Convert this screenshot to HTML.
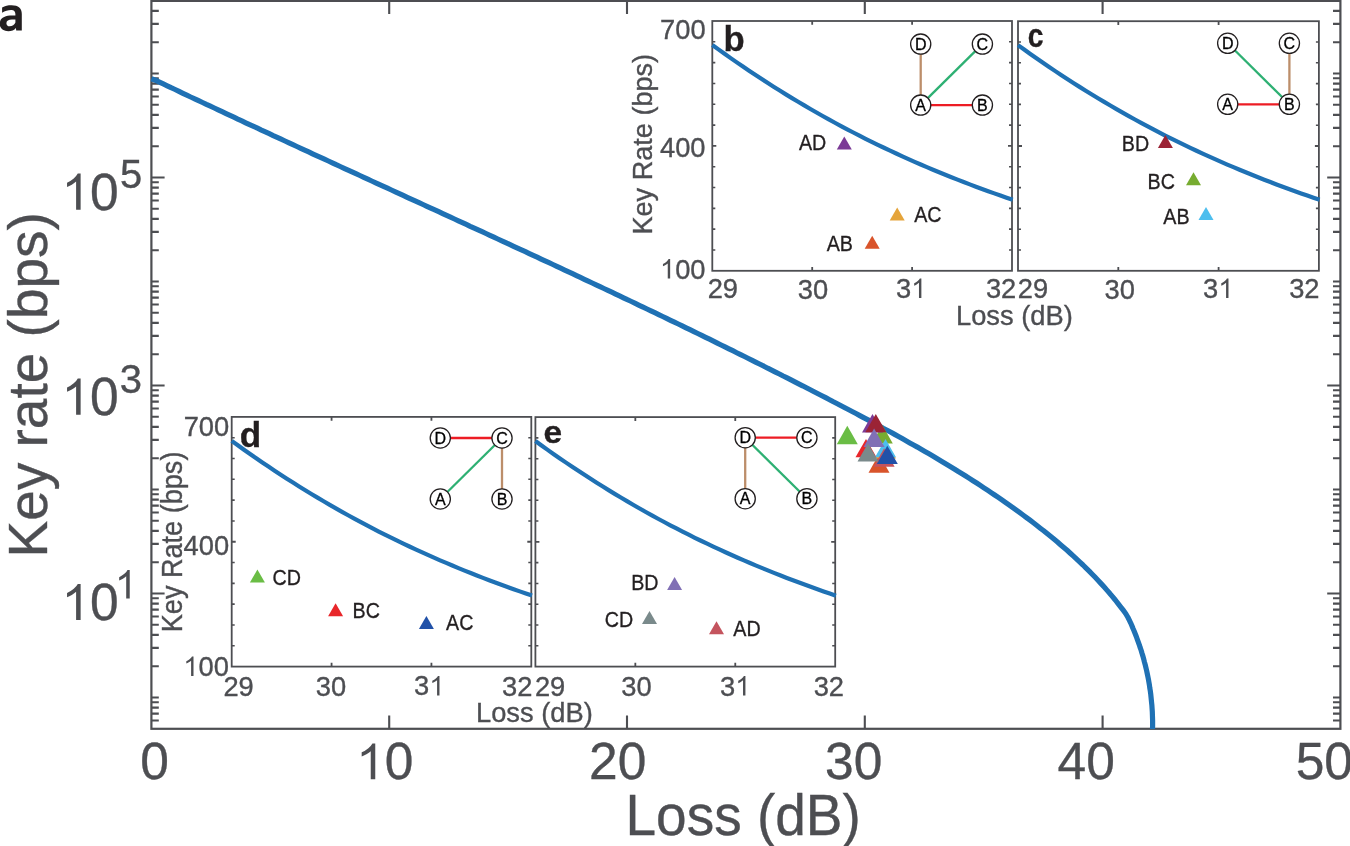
<!DOCTYPE html>
<html><head><meta charset="utf-8"><style>
html,body{margin:0;padding:0;background:#fff;}
svg{display:block;will-change:transform;}
</style></head><body>
<svg width="1350" height="846" viewBox="0 0 1350 846">
<rect width="1350" height="846" fill="#fff"/>
<clipPath id="mclip"><rect x="140" y="0" width="1210" height="729.3"/></clipPath>
<path d="M151.4,720.57h7.4M1340.4,720.57h-7.4M151.4,713.61h7.4M1340.4,713.61h-7.4M151.4,707.58h7.4M1340.4,707.58h-7.4M151.4,702.26h7.4M1340.4,702.26h-7.4M151.4,697.50h7.4M1340.4,697.50h-7.4M151.4,666.19h7.4M1340.4,666.19h-7.4M151.4,647.88h7.4M1340.4,647.88h-7.4M151.4,634.89h7.4M1340.4,634.89h-7.4M151.4,624.81h7.4M1340.4,624.81h-7.4M151.4,616.57h7.4M1340.4,616.57h-7.4M151.4,609.61h7.4M1340.4,609.61h-7.4M151.4,603.58h7.4M1340.4,603.58h-7.4M151.4,598.26h7.4M1340.4,598.26h-7.4M151.4,593.50h13.2M1340.4,593.50h-13.2M151.4,562.19h7.4M1340.4,562.19h-7.4M151.4,543.88h7.4M1340.4,543.88h-7.4M151.4,530.89h7.4M1340.4,530.89h-7.4M151.4,520.81h7.4M1340.4,520.81h-7.4M151.4,512.57h7.4M1340.4,512.57h-7.4M151.4,505.61h7.4M1340.4,505.61h-7.4M151.4,499.58h7.4M1340.4,499.58h-7.4M151.4,494.26h7.4M1340.4,494.26h-7.4M151.4,489.50h7.4M1340.4,489.50h-7.4M151.4,458.19h7.4M1340.4,458.19h-7.4M151.4,439.88h7.4M1340.4,439.88h-7.4M151.4,426.89h7.4M1340.4,426.89h-7.4M151.4,416.81h7.4M1340.4,416.81h-7.4M151.4,408.57h7.4M1340.4,408.57h-7.4M151.4,401.61h7.4M1340.4,401.61h-7.4M151.4,395.58h7.4M1340.4,395.58h-7.4M151.4,390.26h7.4M1340.4,390.26h-7.4M151.4,385.50h13.2M1340.4,385.50h-13.2M151.4,354.19h7.4M1340.4,354.19h-7.4M151.4,335.88h7.4M1340.4,335.88h-7.4M151.4,322.89h7.4M1340.4,322.89h-7.4M151.4,312.81h7.4M1340.4,312.81h-7.4M151.4,304.57h7.4M1340.4,304.57h-7.4M151.4,297.61h7.4M1340.4,297.61h-7.4M151.4,291.58h7.4M1340.4,291.58h-7.4M151.4,286.26h7.4M1340.4,286.26h-7.4M151.4,281.50h7.4M1340.4,281.50h-7.4M151.4,250.19h7.4M1340.4,250.19h-7.4M151.4,231.88h7.4M1340.4,231.88h-7.4M151.4,218.89h7.4M1340.4,218.89h-7.4M151.4,208.81h7.4M1340.4,208.81h-7.4M151.4,200.57h7.4M1340.4,200.57h-7.4M151.4,193.61h7.4M1340.4,193.61h-7.4M151.4,187.58h7.4M1340.4,187.58h-7.4M151.4,182.26h7.4M1340.4,182.26h-7.4M151.4,177.50h13.2M1340.4,177.50h-13.2M151.4,146.19h7.4M1340.4,146.19h-7.4M151.4,127.88h7.4M1340.4,127.88h-7.4M151.4,114.89h7.4M1340.4,114.89h-7.4M151.4,104.81h7.4M1340.4,104.81h-7.4M151.4,96.57h7.4M1340.4,96.57h-7.4M151.4,89.61h7.4M1340.4,89.61h-7.4M151.4,83.58h7.4M1340.4,83.58h-7.4M151.4,78.26h7.4M1340.4,78.26h-7.4M151.4,73.50h7.4M1340.4,73.50h-7.4M151.4,42.19h7.4M1340.4,42.19h-7.4M151.4,23.88h7.4M1340.4,23.88h-7.4M151.4,10.89h7.4M1340.4,10.89h-7.4M389.20,728.8v-13.2M389.20,0.9v13.2M627.00,728.8v-13.2M627.00,0.9v13.2M864.80,728.8v-13.2M864.80,0.9v13.2M1102.60,728.8v-13.2M1102.60,0.9v13.2" stroke="#4d4e52" stroke-width="2.1" fill="none"/>
<rect x="151.4" y="0.9" width="1189.0" height="727.9" fill="none" stroke="#4d4e52" stroke-width="2.2"/>
<path d="M151.4,78.7 L155.5,80.2 L159.4,82.1 L163.3,83.9 L167.2,85.8 L171.1,87.7 L175.1,89.5 L179.0,91.4 L182.9,93.3 L186.8,95.1 L190.7,97.0 L194.7,98.8 L198.6,100.7 L202.5,102.5 L206.4,104.4 L210.4,106.2 L214.3,108.0 L218.2,109.9 L222.1,111.7 L226.1,113.6 L230.0,115.4 L233.9,117.2 L237.8,119.1 L241.8,120.9 L245.7,122.8 L249.6,124.6 L253.6,126.4 L257.5,128.2 L261.4,130.1 L265.4,131.9 L269.3,133.7 L273.2,135.6 L277.2,137.4 L281.1,139.2 L285.0,141.0 L289.0,142.9 L292.9,144.7 L296.9,146.5 L300.8,148.3 L304.7,150.1 L308.7,151.9 L312.6,153.8 L316.5,155.6 L320.5,157.4 L324.4,159.2 L328.4,161.0 L332.3,162.8 L336.2,164.7 L340.2,166.5 L344.1,168.3 L348.1,170.1 L352.0,171.9 L355.9,173.7 L359.9,175.5 L363.8,177.3 L367.8,179.2 L371.7,181.0 L375.7,182.8 L379.6,184.6 L383.5,186.4 L387.5,188.2 L391.4,190.0 L395.4,191.8 L399.3,193.6 L403.2,195.4 L407.2,197.3 L411.1,199.1 L415.1,200.9 L419.0,202.7 L423.0,204.5 L426.9,206.3 L430.8,208.1 L434.8,209.9 L438.7,211.7 L442.7,213.6 L446.6,215.4 L450.5,217.2 L454.5,219.0 L458.4,220.8 L462.4,222.6 L466.3,224.4 L470.2,226.3 L474.2,228.1 L478.1,229.9 L482.1,231.7 L486.0,233.5 L489.9,235.3 L493.9,237.2 L497.8,239.0 L501.8,240.8 L505.7,242.6 L509.6,244.4 L513.6,246.3 L517.5,248.1 L521.4,249.9 L525.4,251.7 L529.3,253.6 L533.2,255.4 L537.2,257.2 L541.1,259.1 L545.0,260.9 L549.0,262.7 L552.9,264.5 L556.8,266.4 L560.7,268.2 L564.7,270.1 L568.6,271.9 L572.5,273.7 L576.5,275.6 L580.4,277.4 L584.3,279.3 L588.2,281.1 L592.2,283.0 L596.1,284.8 L600.0,286.7 L603.9,288.5 L607.9,290.4 L611.8,292.2 L615.7,294.1 L619.6,295.9 L623.5,297.8 L627.4,299.7 L631.4,301.5 L635.3,303.4 L639.2,305.3 L643.1,307.1 L647.0,309.0 L650.9,310.9 L654.8,312.7 L658.7,314.6 L662.7,316.5 L666.6,318.4 L670.5,320.3 L674.4,322.2 L678.3,324.0 L682.2,325.9 L686.1,327.8 L690.0,329.7 L693.9,331.6 L697.8,333.5 L701.7,335.4 L705.6,337.3 L709.5,339.2 L713.4,341.1 L717.3,343.1 L721.1,345.0 L725.0,346.9 L728.9,348.8 L732.8,350.7 L736.7,352.7 L740.6,354.6 L744.5,356.5 L748.4,358.5 L752.2,360.4 L756.1,362.3 L760.0,364.3 L763.9,366.2 L767.7,368.2 L771.6,370.1 L775.5,372.1 L779.4,374.0 L783.2,376.0 L787.1,377.9 L791.0,379.9 L794.8,381.9 L798.7,383.9 L802.6,385.8 L806.4,387.8 L810.3,389.8 L814.1,391.8 L818.0,393.8 L821.9,395.8 L825.7,397.7 L829.6,399.7 L833.4,401.8 L837.3,403.8 L841.1,405.8 L844.9,407.8 L848.8,409.8 L852.6,411.8 L856.5,413.8 L860.3,415.9 L864.1,417.9 L868.0,419.9 L871.8,422.0 L875.6,424.0 L879.4,426.1 L883.2,428.2 L887.1,430.2 L890.9,432.3 L894.7,434.4 L898.5,436.5 L902.2,438.6 L906.0,440.7 L909.8,442.9 L913.6,445.0 L917.4,447.1 L921.1,449.3 L924.9,451.5 L928.6,453.6 L932.4,455.8 L936.1,458.0 L939.8,460.2 L943.5,462.4 L947.3,464.7 L951.0,466.9 L954.7,469.2 L958.3,471.5 L962.0,473.7 L965.7,476.0 L969.4,478.4 L973.0,480.7 L976.7,483.0 L980.3,485.4 L983.9,487.8 L987.5,490.2 L991.1,492.6 L994.7,495.0 L998.3,497.4 L1001.9,499.9 L1005.4,502.4 L1009.0,504.9 L1012.5,507.4 L1016.0,509.9 L1019.5,512.4 L1023.0,515.0 L1026.5,517.6 L1030.0,520.2 L1033.4,522.8 L1036.9,525.5 L1040.3,528.2 L1043.7,530.8 L1047.1,533.6 L1050.5,536.3 L1053.9,539.1 L1057.2,541.8 L1060.5,544.7 L1063.8,547.5 L1067.1,550.3 L1070.3,553.2 L1073.5,556.1 L1076.7,559.1 L1079.9,562.1 L1083.0,565.0 L1086.1,568.1 L1089.2,571.1 L1092.2,574.2 L1095.2,577.3 L1098.2,580.5 L1101.1,583.6 L1104.0,586.8 L1106.9,590.1 L1109.7,593.3 L1112.5,596.7 L1115.3,600.0 L1117.9,603.4 L1120.6,606.8 L1123.2,610.2 L1125.8,613.7 L1128.0,617.5 L1129.3,620.2 L1130.6,622.8 L1131.8,625.5 L1132.9,628.3 L1134.1,631.0 L1135.2,633.7 L1136.3,636.5 L1137.3,639.3 L1138.3,642.1 L1139.3,644.8 L1140.2,647.7 L1141.2,650.5 L1142.0,653.3 L1142.9,656.1 L1143.7,659.0 L1144.4,661.9 L1145.2,664.7 L1145.9,667.6 L1146.6,670.5 L1147.2,673.4 L1147.8,676.3 L1148.4,679.2 L1148.9,682.1 L1149.4,685.0 L1149.8,688.0 L1150.3,690.9 L1150.7,693.8 L1151.0,696.8 L1151.3,699.7 L1151.6,702.7 L1151.9,705.6 L1152.1,708.6 L1152.3,711.5 L1152.4,714.5 L1152.5,717.5 L1152.6,720.4 L1152.6,723.4 L1152.6,726.3 L1152.5,729.3" fill="none" stroke="#1f71b4" stroke-width="5.2" stroke-linejoin="round" clip-path="url(#mclip)"/>
<text transform="translate(140.13,779.18) scale(1.0,1.0100)" style="font-family:'Liberation Sans',sans-serif;font-size:51.50px;" fill="#4d4e52" stroke="#4d4e52" stroke-width="0.35">0</text>
<g transform="translate(356.07,779.18) scale(1.0,1.0100)" fill="#4d4e52" stroke="#4d4e52" stroke-width="0.35"><text style="font-family:'Liberation Sans',sans-serif;font-size:51.50px"> 0</text><path transform="translate(0.000,0) scale(0.02515,-0.02515)" d="M763 0H583V1098Q518 1038 412.5 979T223 890V1057Q375 1124 489 1221T650 1409H763Z"/></g>
<text transform="translate(589.03,779.18) scale(1.0,1.0100)" style="font-family:'Liberation Sans',sans-serif;font-size:51.50px;" fill="#4d4e52" stroke="#4d4e52" stroke-width="0.35">20</text>
<text transform="translate(825.09,779.18) scale(1.0,1.0100)" style="font-family:'Liberation Sans',sans-serif;font-size:51.50px;" fill="#4d4e52" stroke="#4d4e52" stroke-width="0.35">30</text>
<text transform="translate(1057.58,779.18) scale(1.0,1.0100)" style="font-family:'Liberation Sans',sans-serif;font-size:51.50px;" fill="#4d4e52" stroke="#4d4e52" stroke-width="0.35">40</text>
<text transform="translate(1295.64,779.18) scale(1.0,1.0100)" style="font-family:'Liberation Sans',sans-serif;font-size:51.50px;" fill="#4d4e52" stroke="#4d4e52" stroke-width="0.35">50</text>
<g transform="translate(61.44,209.77) scale(1.0,1.0202)" fill="#4d4e52" stroke="#4d4e52" stroke-width="0.35"><text style="font-family:'Liberation Sans',sans-serif;font-size:51.50px"> 0</text><path transform="translate(0.000,0) scale(0.02515,-0.02515)" d="M763 0H583V1098Q518 1038 412.5 979T223 890V1057Q375 1124 489 1221T650 1409H763Z"/></g>
<text transform="translate(119.94,187.90) scale(1.0,1.0100)" style="font-family:'Liberation Sans',sans-serif;font-size:40.00px;" fill="#4d4e52" stroke="#4d4e52" stroke-width="0.35">5</text>
<g transform="translate(61.44,414.87) scale(1.0,1.0285)" fill="#4d4e52" stroke="#4d4e52" stroke-width="0.35"><text style="font-family:'Liberation Sans',sans-serif;font-size:51.50px"> 0</text><path transform="translate(0.000,0) scale(0.02515,-0.02515)" d="M763 0H583V1098Q518 1038 412.5 979T223 890V1057Q375 1124 489 1221T650 1409H763Z"/></g>
<text transform="translate(119.82,393.30) scale(1.0,1.0099)" style="font-family:'Liberation Sans',sans-serif;font-size:40.00px;" fill="#4d4e52" stroke="#4d4e52" stroke-width="0.35">3</text>
<g transform="translate(61.44,619.88) scale(1.0,1.0148)" fill="#4d4e52" stroke="#4d4e52" stroke-width="0.35"><text style="font-family:'Liberation Sans',sans-serif;font-size:51.50px"> 0</text><path transform="translate(0.000,0) scale(0.02515,-0.02515)" d="M763 0H583V1098Q518 1038 412.5 979T223 890V1057Q375 1124 489 1221T650 1409H763Z"/></g>
<g transform="translate(114.82,598.60) scale(1.0,1.0392)" fill="#4d4e52" stroke="#4d4e52" stroke-width="0.35"><text style="font-family:'Liberation Sans',sans-serif;font-size:40.00px"> </text><path transform="translate(0.000,0) scale(0.01953,-0.01953)" d="M763 0H583V1098Q518 1038 412.5 979T223 890V1057Q375 1124 489 1221T650 1409H763Z"/></g>
<text x="625.49" y="834.9" style="font-family:'Liberation Sans',sans-serif;font-size:55px;" fill="#4d4e52" text-anchor="start" transform="translate(0,834.9) scale(1,1.035) translate(0,-834.9)" stroke="#4d4e52" stroke-width="0.35">Loss (dB)</text>
<text transform="translate(46.8,553) rotate(-90) scale(1,1.015)" style="font-family:'Liberation Sans',sans-serif;font-size:55px" fill="#4d4e52" x="-4.51" y="0" stroke="#4d4e52" stroke-width="0.35">Key rate (bps)</text>
<path d="M2.1,7.4 C5,5.8 8,5.2 11.5,5.2 C18.5,5.2 21.8,8.5 21.8,14 L21.8,30.6 L16.2,30.6 L15.9,27.9 C14.3,30 11.5,31.2 8.3,31.2 C3.2,31.2 -0.3,28.3 -0.3,24 C-0.3,18 5,15.6 12,15.6 L15.4,15.6 L15.4,14.6 C15.4,11.2 13.8,10 11,10 C8,10 5,11 2.1,12.8 Z M15.4,19.5 L12,19.5 C8.5,19.5 6.4,20.8 6.4,23.2 C6.4,25.3 7.8,26.3 9.6,26.3 C12.3,26.3 14.6,24.8 15.4,22.5 Z" fill="#231f20" fill-rule="evenodd"/>
<rect x="712.3" y="21.0" width="299.70" height="249.80" fill="#fff"/><path d="M712.3,249.98h3M1012.0,249.98h-3M712.3,229.17h3M1012.0,229.17h-3M712.3,208.35h3M1012.0,208.35h-3M712.3,187.53h3M1012.0,187.53h-3M712.3,166.72h3M1012.0,166.72h-3M712.3,125.08h3M1012.0,125.08h-3M712.3,104.27h3M1012.0,104.27h-3M712.3,83.45h3M1012.0,83.45h-3M712.3,62.63h3M1012.0,62.63h-3M712.3,41.82h3M1012.0,41.82h-3" stroke="#4d4e52" stroke-width="1.6" fill="none"/><path d="M712.3,145.90h4M1012.0,145.90h-4M812.20,270.8v-3.8M812.20,21.0v3.8M912.10,270.8v-3.8M912.10,21.0v3.8" stroke="#4d4e52" stroke-width="1.8" fill="none"/><rect x="712.3" y="21.0" width="299.70" height="249.80" fill="none" stroke="#4d4e52" stroke-width="1.8"/><path d="M0.00,23.91 L6.13,28.34 L12.26,32.72 L18.39,37.04 L24.52,41.29 L30.65,45.49 L36.78,49.62 L42.91,53.70 L49.04,57.72 L55.18,61.68 L61.31,65.58 L67.44,69.43 L73.57,73.22 L79.70,76.95 L85.83,80.63 L91.96,84.25 L98.09,87.81 L104.22,91.33 L110.35,94.78 L116.48,98.19 L122.61,101.54 L128.74,104.84 L134.87,108.09 L141.00,111.28 L147.13,114.43 L153.27,117.52 L159.40,120.56 L165.53,123.56 L171.66,126.50 L177.79,129.40 L183.92,132.25 L190.05,135.05 L196.18,137.81 L202.31,140.52 L208.44,143.19 L214.57,145.81 L220.70,148.40 L226.83,150.93 L232.96,153.43 L239.09,155.89 L245.22,158.31 L251.36,160.69 L257.49,163.03 L263.62,165.33 L269.75,167.60 L275.88,169.83 L282.01,172.02 L288.14,174.18 L294.27,176.31 L300.40,178.41" transform="translate(712.3,21.0) scale(1.0000,1.0020)" fill="none" stroke="#1f71b4" stroke-width="4.2" vector-effect="non-scaling-stroke" stroke-linejoin="round"/><text transform="translate(723.51,50.95) scale(1.0,1.0031)" style="font-family:'Liberation Sans',sans-serif;font-size:34.72px;font-weight:bold;" fill="#231f20" stroke="#231f20" stroke-width="0.3">b</text>
<line x1="920.70" y1="44.10" x2="920.70" y2="105.10" stroke="#bc8e6a" stroke-width="2.3"/><line x1="920.70" y1="105.10" x2="982.40" y2="44.10" stroke="#2eb073" stroke-width="2.3"/><line x1="920.70" y1="105.10" x2="982.40" y2="105.10" stroke="#ed1c24" stroke-width="2.3"/><circle cx="920.70" cy="44.10" r="10.1" fill="#fff" stroke="#231f20" stroke-width="1.3"/><text x="920.70" y="49.60" style="font-family:'Liberation Sans',sans-serif;font-size:16px" fill="#000" text-anchor="middle" stroke="#000" stroke-width="0.3">D</text><circle cx="982.40" cy="44.10" r="10.1" fill="#fff" stroke="#231f20" stroke-width="1.3"/><text x="982.40" y="49.60" style="font-family:'Liberation Sans',sans-serif;font-size:16px" fill="#000" text-anchor="middle" stroke="#000" stroke-width="0.3">C</text><circle cx="920.70" cy="105.10" r="10.1" fill="#fff" stroke="#231f20" stroke-width="1.3"/><text x="920.70" y="110.60" style="font-family:'Liberation Sans',sans-serif;font-size:16px" fill="#000" text-anchor="middle" stroke="#000" stroke-width="0.3">A</text><circle cx="982.40" cy="105.10" r="10.1" fill="#fff" stroke="#231f20" stroke-width="1.3"/><text x="982.40" y="110.60" style="font-family:'Liberation Sans',sans-serif;font-size:16px" fill="#000" text-anchor="middle" stroke="#000" stroke-width="0.3">B</text>
<rect x="1018.0" y="21.2" width="300.90" height="249.60" fill="#fff"/><path d="M1018.0,250.00h3M1318.9,250.00h-3M1018.0,229.20h3M1318.9,229.20h-3M1018.0,208.40h3M1318.9,208.40h-3M1018.0,187.60h3M1318.9,187.60h-3M1018.0,166.80h3M1318.9,166.80h-3M1018.0,125.20h3M1318.9,125.20h-3M1018.0,104.40h3M1318.9,104.40h-3M1018.0,83.60h3M1318.9,83.60h-3M1018.0,62.80h3M1318.9,62.80h-3M1018.0,42.00h3M1318.9,42.00h-3" stroke="#4d4e52" stroke-width="1.6" fill="none"/><path d="M1018.0,146.00h4M1318.9,146.00h-4M1118.30,270.8v-3.8M1118.30,21.2v3.8M1218.60,270.8v-3.8M1218.60,21.2v3.8" stroke="#4d4e52" stroke-width="1.8" fill="none"/><rect x="1018.0" y="21.2" width="300.90" height="249.60" fill="none" stroke="#4d4e52" stroke-width="1.8"/><path d="M0.00,23.91 L6.13,28.34 L12.26,32.72 L18.39,37.04 L24.52,41.29 L30.65,45.49 L36.78,49.62 L42.91,53.70 L49.04,57.72 L55.18,61.68 L61.31,65.58 L67.44,69.43 L73.57,73.22 L79.70,76.95 L85.83,80.63 L91.96,84.25 L98.09,87.81 L104.22,91.33 L110.35,94.78 L116.48,98.19 L122.61,101.54 L128.74,104.84 L134.87,108.09 L141.00,111.28 L147.13,114.43 L153.27,117.52 L159.40,120.56 L165.53,123.56 L171.66,126.50 L177.79,129.40 L183.92,132.25 L190.05,135.05 L196.18,137.81 L202.31,140.52 L208.44,143.19 L214.57,145.81 L220.70,148.40 L226.83,150.93 L232.96,153.43 L239.09,155.89 L245.22,158.31 L251.36,160.69 L257.49,163.03 L263.62,165.33 L269.75,167.60 L275.88,169.83 L282.01,172.02 L288.14,174.18 L294.27,176.31 L300.40,178.41" transform="translate(1018.0,21.2) scale(1.0040,1.0012)" fill="none" stroke="#1f71b4" stroke-width="4.2" vector-effect="non-scaling-stroke" stroke-linejoin="round"/><text transform="translate(1027.80,46.68) scale(1.0,1.1486)" style="font-family:'Liberation Sans',sans-serif;font-size:28.28px;font-weight:bold;" fill="#231f20" stroke="#231f20" stroke-width="0.3">c</text>
<line x1="1227.70" y1="43.30" x2="1289.40" y2="104.30" stroke="#2eb073" stroke-width="2.3"/><line x1="1289.40" y1="43.30" x2="1289.40" y2="104.30" stroke="#bc8e6a" stroke-width="2.3"/><line x1="1227.70" y1="104.30" x2="1289.40" y2="104.30" stroke="#ed1c24" stroke-width="2.3"/><circle cx="1227.70" cy="43.30" r="10.1" fill="#fff" stroke="#231f20" stroke-width="1.3"/><text x="1227.70" y="48.80" style="font-family:'Liberation Sans',sans-serif;font-size:16px" fill="#000" text-anchor="middle" stroke="#000" stroke-width="0.3">D</text><circle cx="1289.40" cy="43.30" r="10.1" fill="#fff" stroke="#231f20" stroke-width="1.3"/><text x="1289.40" y="48.80" style="font-family:'Liberation Sans',sans-serif;font-size:16px" fill="#000" text-anchor="middle" stroke="#000" stroke-width="0.3">C</text><circle cx="1227.70" cy="104.30" r="10.1" fill="#fff" stroke="#231f20" stroke-width="1.3"/><text x="1227.70" y="109.80" style="font-family:'Liberation Sans',sans-serif;font-size:16px" fill="#000" text-anchor="middle" stroke="#000" stroke-width="0.3">A</text><circle cx="1289.40" cy="104.30" r="10.1" fill="#fff" stroke="#231f20" stroke-width="1.3"/><text x="1289.40" y="109.80" style="font-family:'Liberation Sans',sans-serif;font-size:16px" fill="#000" text-anchor="middle" stroke="#000" stroke-width="0.3">B</text>
<rect x="231.7" y="416.9" width="299.60" height="249.70" fill="#fff"/><path d="M231.7,645.79h3M531.3,645.79h-3M231.7,624.98h3M531.3,624.98h-3M231.7,604.17h3M531.3,604.17h-3M231.7,583.37h3M531.3,583.37h-3M231.7,562.56h3M531.3,562.56h-3M231.7,520.94h3M531.3,520.94h-3M231.7,500.13h3M531.3,500.13h-3M231.7,479.32h3M531.3,479.32h-3M231.7,458.52h3M531.3,458.52h-3M231.7,437.71h3M531.3,437.71h-3" stroke="#4d4e52" stroke-width="1.6" fill="none"/><path d="M231.7,541.75h4M531.3,541.75h-4M331.57,666.6v-3.8M331.57,416.9v3.8M431.43,666.6v-3.8M431.43,416.9v3.8" stroke="#4d4e52" stroke-width="1.8" fill="none"/><rect x="231.7" y="416.9" width="299.60" height="249.70" fill="none" stroke="#4d4e52" stroke-width="1.8"/><path d="M0.00,23.91 L6.13,28.34 L12.26,32.72 L18.39,37.04 L24.52,41.29 L30.65,45.49 L36.78,49.62 L42.91,53.70 L49.04,57.72 L55.18,61.68 L61.31,65.58 L67.44,69.43 L73.57,73.22 L79.70,76.95 L85.83,80.63 L91.96,84.25 L98.09,87.81 L104.22,91.33 L110.35,94.78 L116.48,98.19 L122.61,101.54 L128.74,104.84 L134.87,108.09 L141.00,111.28 L147.13,114.43 L153.27,117.52 L159.40,120.56 L165.53,123.56 L171.66,126.50 L177.79,129.40 L183.92,132.25 L190.05,135.05 L196.18,137.81 L202.31,140.52 L208.44,143.19 L214.57,145.81 L220.70,148.40 L226.83,150.93 L232.96,153.43 L239.09,155.89 L245.22,158.31 L251.36,160.69 L257.49,163.03 L263.62,165.33 L269.75,167.60 L275.88,169.83 L282.01,172.02 L288.14,174.18 L294.27,176.31 L300.40,178.41" transform="translate(231.7,416.9) scale(0.9997,1.0016)" fill="none" stroke="#1f71b4" stroke-width="4.2" vector-effect="non-scaling-stroke" stroke-linejoin="round"/><text transform="translate(239.76,447.05) scale(1.0,0.9879)" style="font-family:'Liberation Sans',sans-serif;font-size:35.12px;font-weight:bold;" fill="#231f20" stroke="#231f20" stroke-width="0.3">d</text>
<line x1="440.30" y1="438.00" x2="502.00" y2="438.00" stroke="#ed1c24" stroke-width="2.3"/><line x1="502.00" y1="438.00" x2="440.30" y2="499.00" stroke="#2eb073" stroke-width="2.3"/><line x1="502.00" y1="438.00" x2="502.00" y2="499.00" stroke="#bc8e6a" stroke-width="2.3"/><circle cx="440.30" cy="438.00" r="10.1" fill="#fff" stroke="#231f20" stroke-width="1.3"/><text x="440.30" y="443.50" style="font-family:'Liberation Sans',sans-serif;font-size:16px" fill="#000" text-anchor="middle" stroke="#000" stroke-width="0.3">D</text><circle cx="502.00" cy="438.00" r="10.1" fill="#fff" stroke="#231f20" stroke-width="1.3"/><text x="502.00" y="443.50" style="font-family:'Liberation Sans',sans-serif;font-size:16px" fill="#000" text-anchor="middle" stroke="#000" stroke-width="0.3">C</text><circle cx="440.30" cy="499.00" r="10.1" fill="#fff" stroke="#231f20" stroke-width="1.3"/><text x="440.30" y="504.50" style="font-family:'Liberation Sans',sans-serif;font-size:16px" fill="#000" text-anchor="middle" stroke="#000" stroke-width="0.3">A</text><circle cx="502.00" cy="499.00" r="10.1" fill="#fff" stroke="#231f20" stroke-width="1.3"/><text x="502.00" y="504.50" style="font-family:'Liberation Sans',sans-serif;font-size:16px" fill="#000" text-anchor="middle" stroke="#000" stroke-width="0.3">B</text>
<rect x="535.4" y="417.1" width="299.80" height="249.50" fill="#fff"/><path d="M535.4,645.81h3M835.2,645.81h-3M535.4,625.02h3M835.2,625.02h-3M535.4,604.23h3M835.2,604.23h-3M535.4,583.43h3M835.2,583.43h-3M535.4,562.64h3M835.2,562.64h-3M535.4,521.06h3M835.2,521.06h-3M535.4,500.27h3M835.2,500.27h-3M535.4,479.48h3M835.2,479.48h-3M535.4,458.68h3M835.2,458.68h-3M535.4,437.89h3M835.2,437.89h-3" stroke="#4d4e52" stroke-width="1.6" fill="none"/><path d="M535.4,541.85h4M835.2,541.85h-4M635.33,666.6v-3.8M635.33,417.1v3.8M735.27,666.6v-3.8M735.27,417.1v3.8" stroke="#4d4e52" stroke-width="1.8" fill="none"/><rect x="535.4" y="417.1" width="299.80" height="249.50" fill="none" stroke="#4d4e52" stroke-width="1.8"/><path d="M0.00,23.91 L6.13,28.34 L12.26,32.72 L18.39,37.04 L24.52,41.29 L30.65,45.49 L36.78,49.62 L42.91,53.70 L49.04,57.72 L55.18,61.68 L61.31,65.58 L67.44,69.43 L73.57,73.22 L79.70,76.95 L85.83,80.63 L91.96,84.25 L98.09,87.81 L104.22,91.33 L110.35,94.78 L116.48,98.19 L122.61,101.54 L128.74,104.84 L134.87,108.09 L141.00,111.28 L147.13,114.43 L153.27,117.52 L159.40,120.56 L165.53,123.56 L171.66,126.50 L177.79,129.40 L183.92,132.25 L190.05,135.05 L196.18,137.81 L202.31,140.52 L208.44,143.19 L214.57,145.81 L220.70,148.40 L226.83,150.93 L232.96,153.43 L239.09,155.89 L245.22,158.31 L251.36,160.69 L257.49,163.03 L263.62,165.33 L269.75,167.60 L275.88,169.83 L282.01,172.02 L288.14,174.18 L294.27,176.31 L300.40,178.41" transform="translate(535.4,417.1) scale(1.0003,1.0008)" fill="none" stroke="#1f71b4" stroke-width="4.2" vector-effect="non-scaling-stroke" stroke-linejoin="round"/><text transform="translate(543.49,442.68) scale(1.0,0.9576)" style="font-family:'Liberation Sans',sans-serif;font-size:33.54px;font-weight:bold;" fill="#231f20" stroke="#231f20" stroke-width="0.3">e</text>
<line x1="745.20" y1="437.70" x2="806.90" y2="437.70" stroke="#ed1c24" stroke-width="2.3"/><line x1="745.20" y1="437.70" x2="806.90" y2="498.70" stroke="#2eb073" stroke-width="2.3"/><line x1="745.20" y1="437.70" x2="745.20" y2="498.70" stroke="#bc8e6a" stroke-width="2.3"/><circle cx="745.20" cy="437.70" r="10.1" fill="#fff" stroke="#231f20" stroke-width="1.3"/><text x="745.20" y="443.20" style="font-family:'Liberation Sans',sans-serif;font-size:16px" fill="#000" text-anchor="middle" stroke="#000" stroke-width="0.3">D</text><circle cx="806.90" cy="437.70" r="10.1" fill="#fff" stroke="#231f20" stroke-width="1.3"/><text x="806.90" y="443.20" style="font-family:'Liberation Sans',sans-serif;font-size:16px" fill="#000" text-anchor="middle" stroke="#000" stroke-width="0.3">C</text><circle cx="745.20" cy="498.70" r="10.1" fill="#fff" stroke="#231f20" stroke-width="1.3"/><text x="745.20" y="504.20" style="font-family:'Liberation Sans',sans-serif;font-size:16px" fill="#000" text-anchor="middle" stroke="#000" stroke-width="0.3">A</text><circle cx="806.90" cy="498.70" r="10.1" fill="#fff" stroke="#231f20" stroke-width="1.3"/><text x="806.90" y="504.20" style="font-family:'Liberation Sans',sans-serif;font-size:16px" fill="#000" text-anchor="middle" stroke="#000" stroke-width="0.3">B</text>
<text transform="translate(660.12,38.52) scale(1.0,1.0400)" style="font-family:'Liberation Sans',sans-serif;font-size:27.30px;" fill="#4d4e52" stroke="#4d4e52" stroke-width="0.35">700</text>
<text transform="translate(660.00,157.42) scale(1.0,1.0400)" style="font-family:'Liberation Sans',sans-serif;font-size:27.30px;" fill="#4d4e52" stroke="#4d4e52" stroke-width="0.35">400</text>
<g transform="translate(659.98,278.62) scale(1.0,1.0400)" fill="#4d4e52" stroke="#4d4e52" stroke-width="0.35"><text style="font-family:'Liberation Sans',sans-serif;font-size:27.30px"> 00</text><path transform="translate(0.000,0) scale(0.01333,-0.01333)" d="M763 0H583V1098Q518 1038 412.5 979T223 890V1057Q375 1124 489 1221T650 1409H763Z"/></g>
<text transform="translate(707.63,298.22) scale(1.0,1.0400)" style="font-family:'Liberation Sans',sans-serif;font-size:27.30px;" fill="#4d4e52" stroke="#4d4e52" stroke-width="0.35">29</text>
<text transform="translate(797.83,298.52) scale(1.0,1.0400)" style="font-family:'Liberation Sans',sans-serif;font-size:27.30px;" fill="#4d4e52" stroke="#4d4e52" stroke-width="0.35">30</text>
<g transform="translate(896.02,298.02) scale(1.0,1.0400)" fill="#4d4e52" stroke="#4d4e52" stroke-width="0.35"><text style="font-family:'Liberation Sans',sans-serif;font-size:27.30px">3 </text><path transform="translate(15.183,0) scale(0.01333,-0.01333)" d="M763 0H583V1098Q518 1038 412.5 979T223 890V1057Q375 1124 489 1221T650 1409H763Z"/></g>
<text transform="translate(985.94,298.12) scale(1.0,1.0400)" style="font-family:'Liberation Sans',sans-serif;font-size:27.30px;" fill="#4d4e52" stroke="#4d4e52" stroke-width="0.35">32</text>
<text transform="translate(1017.83,298.12) scale(1.0,1.0400)" style="font-family:'Liberation Sans',sans-serif;font-size:27.30px;" fill="#4d4e52" stroke="#4d4e52" stroke-width="0.35">29</text>
<text transform="translate(1104.58,298.52) scale(1.0,1.0400)" style="font-family:'Liberation Sans',sans-serif;font-size:27.30px;" fill="#4d4e52" stroke="#4d4e52" stroke-width="0.35">30</text>
<g transform="translate(1203.12,298.02) scale(1.0,1.0400)" fill="#4d4e52" stroke="#4d4e52" stroke-width="0.35"><text style="font-family:'Liberation Sans',sans-serif;font-size:27.30px">3 </text><path transform="translate(15.183,0) scale(0.01333,-0.01333)" d="M763 0H583V1098Q518 1038 412.5 979T223 890V1057Q375 1124 489 1221T650 1409H763Z"/></g>
<text transform="translate(1289.13,298.12) scale(1.0,1.0400)" style="font-family:'Liberation Sans',sans-serif;font-size:27.30px;" fill="#4d4e52" stroke="#4d4e52" stroke-width="0.35">32</text>
<text transform="translate(183.67,435.52) scale(1.0,1.0400)" style="font-family:'Liberation Sans',sans-serif;font-size:27.30px;" fill="#4d4e52" stroke="#4d4e52" stroke-width="0.35">700</text>
<text transform="translate(183.55,554.62) scale(1.0,1.0400)" style="font-family:'Liberation Sans',sans-serif;font-size:27.30px;" fill="#4d4e52" stroke="#4d4e52" stroke-width="0.35">400</text>
<g transform="translate(183.33,675.92) scale(1.0,1.0400)" fill="#4d4e52" stroke="#4d4e52" stroke-width="0.35"><text style="font-family:'Liberation Sans',sans-serif;font-size:27.30px"> 00</text><path transform="translate(0.000,0) scale(0.01333,-0.01333)" d="M763 0H583V1098Q518 1038 412.5 979T223 890V1057Q375 1124 489 1221T650 1409H763Z"/></g>
<text transform="translate(223.38,695.82) scale(1.0,1.0400)" style="font-family:'Liberation Sans',sans-serif;font-size:27.30px;" fill="#4d4e52" stroke="#4d4e52" stroke-width="0.35">29</text>
<text transform="translate(315.73,695.82) scale(1.0,1.0400)" style="font-family:'Liberation Sans',sans-serif;font-size:27.30px;" fill="#4d4e52" stroke="#4d4e52" stroke-width="0.35">30</text>
<g transform="translate(414.12,695.42) scale(1.0,1.0400)" fill="#4d4e52" stroke="#4d4e52" stroke-width="0.35"><text style="font-family:'Liberation Sans',sans-serif;font-size:27.30px">3 </text><path transform="translate(15.183,0) scale(0.01333,-0.01333)" d="M763 0H583V1098Q518 1038 412.5 979T223 890V1057Q375 1124 489 1221T650 1409H763Z"/></g>
<text transform="translate(502.03,695.62) scale(1.0,1.0400)" style="font-family:'Liberation Sans',sans-serif;font-size:27.30px;" fill="#4d4e52" stroke="#4d4e52" stroke-width="0.35">32</text>
<text transform="translate(534.93,695.72) scale(1.0,1.0400)" style="font-family:'Liberation Sans',sans-serif;font-size:27.30px;" fill="#4d4e52" stroke="#4d4e52" stroke-width="0.35">29</text>
<text transform="translate(621.33,695.72) scale(1.0,1.0400)" style="font-family:'Liberation Sans',sans-serif;font-size:27.30px;" fill="#4d4e52" stroke="#4d4e52" stroke-width="0.35">30</text>
<g transform="translate(720.07,695.52) scale(1.0,1.0400)" fill="#4d4e52" stroke="#4d4e52" stroke-width="0.35"><text style="font-family:'Liberation Sans',sans-serif;font-size:27.30px">3 </text><path transform="translate(15.183,0) scale(0.01333,-0.01333)" d="M763 0H583V1098Q518 1038 412.5 979T223 890V1057Q375 1124 489 1221T650 1409H763Z"/></g>
<text transform="translate(813.63,695.72) scale(1.0,1.0400)" style="font-family:'Liberation Sans',sans-serif;font-size:27.30px;" fill="#4d4e52" stroke="#4d4e52" stroke-width="0.35">32</text>
<text transform="translate(955.96,324.5) scale(1,1.03)" style="font-family:'Liberation Sans',sans-serif;font-size:27.3px" fill="#4d4e52" stroke="#4d4e52" stroke-width="0.35">Loss (dB)</text>
<text transform="translate(475.96,721.6) scale(1,1.03)" style="font-family:'Liberation Sans',sans-serif;font-size:27.3px" fill="#4d4e52" stroke="#4d4e52" stroke-width="0.35">Loss (dB)</text>
<text transform="translate(652.4,232.3) rotate(-90) scale(1,1.05)" style="font-family:'Liberation Sans',sans-serif;font-size:27.1px" fill="#4d4e52" x="-2.22" y="0" stroke="#4d4e52" stroke-width="0.35">Key Rate (bps)</text>
<text transform="translate(182.0,630.0) rotate(-90) scale(1,1.07)" style="font-family:'Liberation Sans',sans-serif;font-size:27.1px" fill="#4d4e52" x="-2.22" y="0" stroke="#4d4e52" stroke-width="0.35">Key Rate (bps)</text>
<path d="M844.30,136.50L851.80,149.50L836.80,149.50Z" fill="#7b3a96"/>
<text transform="translate(798.97,149.60) scale(1.0,1.0800)" style="font-family:'Liberation Sans',sans-serif;font-size:19.70px;" fill="#231f20" stroke="#231f20" stroke-width="0.3">AD</text>
<path d="M897.20,207.40L904.70,220.40L889.70,220.40Z" fill="#e5a43a"/>
<text transform="translate(914.17,222.39) scale(1.0,1.0800)" style="font-family:'Liberation Sans',sans-serif;font-size:19.70px;" fill="#231f20" stroke="#231f20" stroke-width="0.3">AC</text>
<path d="M872.20,235.80L879.70,248.80L864.70,248.80Z" fill="#d9542b"/>
<text transform="translate(826.71,250.70) scale(1.0,1.0800)" style="font-family:'Liberation Sans',sans-serif;font-size:19.70px;" fill="#231f20" stroke="#231f20" stroke-width="0.3">AB</text>
<path d="M1165.40,135.00L1172.90,148.00L1157.90,148.00Z" fill="#9b2335"/>
<text transform="translate(1121.78,151.00) scale(1.0,1.0800)" style="font-family:'Liberation Sans',sans-serif;font-size:19.70px;" fill="#231f20" stroke="#231f20" stroke-width="0.3">BD</text>
<path d="M1193.50,172.20L1201.00,185.20L1186.00,185.20Z" fill="#77ac30"/>
<text transform="translate(1147.53,188.59) scale(1.0,1.0800)" style="font-family:'Liberation Sans',sans-serif;font-size:19.70px;" fill="#231f20" stroke="#231f20" stroke-width="0.3">BC</text>
<path d="M1206.00,207.00L1213.50,220.00L1198.50,220.00Z" fill="#4dbeee"/>
<text transform="translate(1163.31,223.50) scale(1.0,1.0800)" style="font-family:'Liberation Sans',sans-serif;font-size:19.70px;" fill="#231f20" stroke="#231f20" stroke-width="0.3">AB</text>
<path d="M257.40,569.60L264.90,582.60L249.90,582.60Z" fill="#6abd45"/>
<text transform="translate(272.60,584.79) scale(1.0,1.0800)" style="font-family:'Liberation Sans',sans-serif;font-size:19.70px;" fill="#231f20" stroke="#231f20" stroke-width="0.3">CD</text>
<path d="M335.60,603.20L343.10,616.20L328.10,616.20Z" fill="#e8262a"/>
<text transform="translate(352.53,618.09) scale(1.0,1.0800)" style="font-family:'Liberation Sans',sans-serif;font-size:19.70px;" fill="#231f20" stroke="#231f20" stroke-width="0.3">BC</text>
<path d="M426.40,616.00L433.90,629.00L418.90,629.00Z" fill="#2151a8"/>
<text transform="translate(446.07,630.19) scale(1.0,1.0800)" style="font-family:'Liberation Sans',sans-serif;font-size:19.70px;" fill="#231f20" stroke="#231f20" stroke-width="0.3">AC</text>
<path d="M674.60,577.00L682.10,590.00L667.10,590.00Z" fill="#8170b5"/>
<text transform="translate(631.18,589.60) scale(1.0,1.0800)" style="font-family:'Liberation Sans',sans-serif;font-size:19.70px;" fill="#231f20" stroke="#231f20" stroke-width="0.3">BD</text>
<path d="M649.50,611.00L657.00,624.00L642.00,624.00Z" fill="#7a8a8b"/>
<text transform="translate(604.80,627.09) scale(1.0,1.0800)" style="font-family:'Liberation Sans',sans-serif;font-size:19.70px;" fill="#231f20" stroke="#231f20" stroke-width="0.3">CD</text>
<path d="M716.50,621.30L724.00,634.30L709.00,634.30Z" fill="#c4545e"/>
<text transform="translate(733.37,635.80) scale(1.0,1.0800)" style="font-family:'Liberation Sans',sans-serif;font-size:19.70px;" fill="#231f20" stroke="#231f20" stroke-width="0.3">AD</text>
<path d="M879.00,454.30L889.50,472.70L868.50,472.70Z" fill="#d9542b"/>
<path d="M885.50,440.00L896.00,458.40L875.00,458.40Z" fill="#e5a43a"/>
<path d="M882.30,425.00L892.80,443.40L871.80,443.40Z" fill="#77ac30"/>
<path d="M872.50,414.00L883.00,432.40L862.00,432.40Z" fill="#7b3a96"/>
<path d="M875.80,413.90L886.30,432.30L865.30,432.30Z" fill="#9b2335"/>
<path d="M866.00,438.90L876.50,457.30L855.50,457.30Z" fill="#e8262a"/>
<path d="M885.50,438.90L896.00,457.30L875.00,457.30Z" fill="#4dbeee"/>
<path d="M884.10,448.30L894.60,466.70L873.60,466.70Z" fill="#c4545e"/>
<path d="M887.30,445.70L897.80,464.10L876.80,464.10Z" fill="#2151a8"/>
<path d="M874.10,428.60L884.60,447.00L863.60,447.00Z" fill="#8170b5"/>
<path d="M868.00,443.20L878.50,461.60L857.50,461.60Z" fill="#7a8a8b"/>
<path d="M847.30,425.80L857.80,444.20L836.80,444.20Z" fill="#6abd45"/>
</svg>
</body></html>
